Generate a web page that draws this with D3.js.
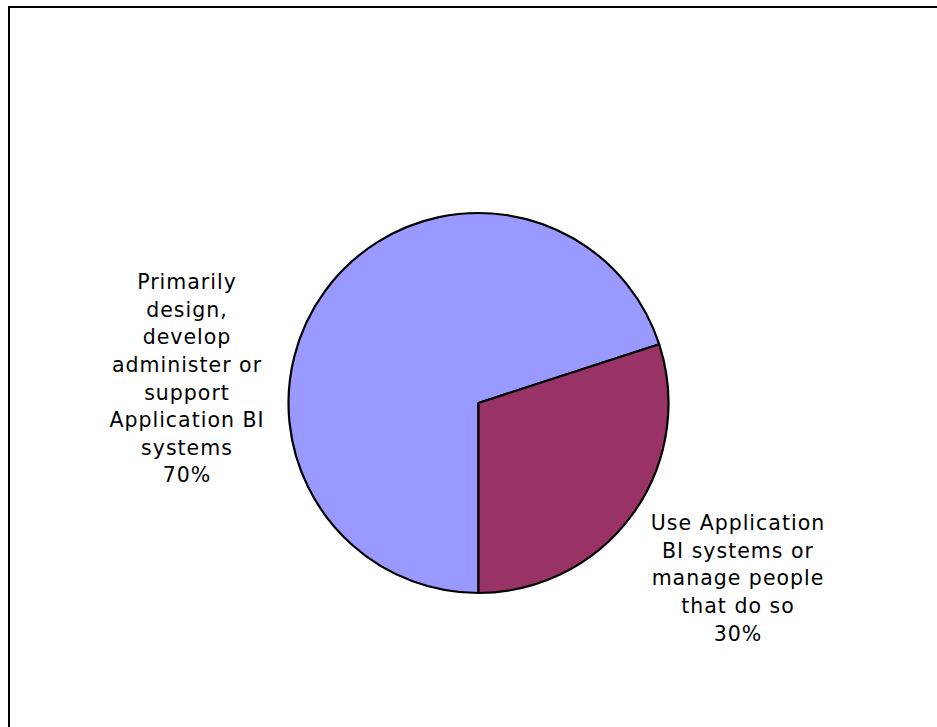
<!DOCTYPE html>
<html>
<head>
<meta charset="utf-8">
<script src="https://cdn.jsdelivr.net/npm/d3@7"></script>
<style>
  html, body { margin: 0; padding: 0; background: #fff; }
  svg { display: block; }
</style>
</head>
<body>
<svg id="chart" width="937" height="727"></svg>
<script>
// Share of respondents by role
const categories = [
  "Primarily design, develop administer or support Application BI systems",
  "Use Application BI systems or manage people that do so"
];
const values = [70, 30];
const labelLines = [
  ["Primarily", "design,", "develop", "administer or", "support", "Application BI", "systems", "70%"],
  ["Use Application", "BI systems or", "manage people", "that do so", "30%"]
];
const colors = ["#9999FF", "#993366"];

const svg = d3.select("#chart");
const W = 937, H = 727;

// chart frame (extends past the window on the right and bottom)
svg.append("rect")
  .attr("x", 9).attr("y", 7)
  .attr("width", W + 20).attr("height", H + 20)
  .attr("fill", "#fff").attr("stroke", "#000").attr("stroke-width", 2);

const cx = 478.5, cy = 403, r = 190;

const pie = d3.pie().sort(null).value(d => d)
  .startAngle(Math.PI).endAngle(3 * Math.PI);
const arc = d3.arc().innerRadius(0).outerRadius(r);
const arcs = pie(values);

const g = svg.append("g").attr("transform", `translate(${cx},${cy})`);
g.selectAll("path.slice")
  .data(arcs)
  .join("path")
  .attr("class", "slice")
  .attr("d", arc)
  .attr("fill", (d, i) => colors[i])
  .attr("stroke", "#000")
  .attr("stroke-width", 2.2)
  .attr("stroke-linejoin", "round");

// data labels, placed beside their slices
const labelPos = [
  { x: 187, y: 378.5 },
  { x: 738, y: 578 }
];
const lineH = 27.6;

const labels = svg.selectAll("text.lbl")
  .data(arcs)
  .join("text")
  .attr("class", "lbl")
  .attr("text-anchor", "middle")
  .attr("font-family", "Verdana, 'DejaVu Sans', sans-serif")
  .attr("font-size", 20.5)
  .attr("letter-spacing", 1)
  .attr("fill", "#000");

labels.each(function(d, i) {
  const lines = labelLines[i];
  const p = labelPos[i];
  const top = p.y - (lines.length - 1) * lineH / 2;
  d3.select(this).selectAll("tspan")
    .data(lines)
    .join("tspan")
    .attr("x", p.x)
    .attr("y", (t, k) => top + k * lineH)
    .attr("dy", "0.36em")
    .text(t => t);
});
</script>
</body>
</html>
